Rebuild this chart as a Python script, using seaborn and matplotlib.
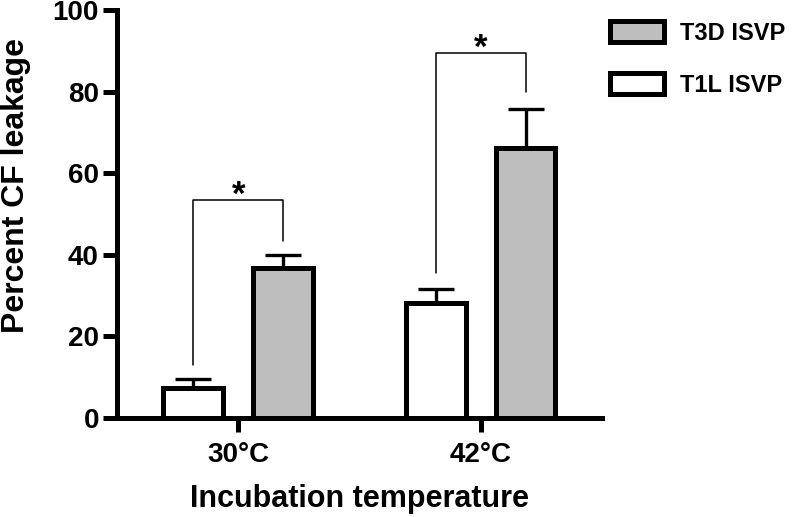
import seaborn as sns
import matplotlib.pyplot as plt
import pandas as pd
from matplotlib.patches import Patch

sns.set_style("ticks", {'axes.edgecolor': 'black', 'xtick.color': 'black',
                        'ytick.color': 'black', 'text.color': 'black',
                        'axes.labelcolor': 'black'})
plt.rcParams['font.family'] = ['Liberation Sans', 'DejaVu Sans']
plt.rcParams['font.weight'] = 'bold'

temps = ['30°C', '42°C']
strains = ['T1L ISVP', 'T3D ISVP']
t1l_mean = [7.3, 28.3]
t1l_err = [2.2, 3.4]
t3d_mean = [36.8, 66.2]
t3d_err = [3.2, 9.5]
colors = {'T1L ISVP': 'white', 'T3D ISVP': '#bebebe'}

# significance brackets: left leg bottom, top, right leg bottom
brackets = [(13, 53.5, 43.5), (35.5, 89.5, 79.8)]

df = pd.DataFrame({
    'temp': temps * 2,
    'strain': ['T1L ISVP'] * 2 + ['T3D ISVP'] * 2,
    'leak': t1l_mean + t3d_mean,
    'err': t1l_err + t3d_err,
})

fig = plt.figure(figsize=(7.93, 5.17), dpi=100)
ax = fig.add_axes([0.1475, 0.1915, 0.6115, 0.789])

sns.barplot(data=df, x='temp', y='leak', hue='strain', hue_order=strains,
            palette=colors, width=0.74, gap=0.333, edgecolor='black',
            linewidth=3.6, errorbar=None, legend=False, ax=ax)

# upper error bars only
bars = {}
for p, (_, row) in zip(ax.patches, df.iterrows()):
    xc = p.get_x() + p.get_width() / 2
    bars[(row['temp'], row['strain'])] = xc
    ax.errorbar(xc, row['leak'], yerr=[[0], [row['err']]], fmt='none',
                ecolor='black', elinewidth=2.4, capsize=13, capthick=2.4, zorder=1)

for i, t in enumerate(temps):
    x1 = bars[(t, 'T1L ISVP')]
    x2 = bars[(t, 'T3D ISVP')]
    lo1, top, lo2 = brackets[i]
    ax.plot([x1, x1, x2, x2], [lo1, top, top, lo2], color='black', lw=1.1)
    ax.text((x1 + x2) / 2, top + 1.0, '*', ha='center', va='center',
            fontsize=25, fontweight='bold')

ax.set_xlim(-0.5, 1.5)
ax.set_ylim(0, 100)
ax.set_yticks([0, 20, 40, 60, 80, 100])
sns.despine(ax=ax)
for s in ['left', 'bottom']:
    ax.spines[s].set_linewidth(3.6)
ax.tick_params(width=3.6, length=10, labelsize=20)
ax.tick_params(axis='y', pad=3)
ax.tick_params(axis='x', pad=7)
ax.set_xlabel('Incubation temperature', fontsize=22, fontweight='bold', labelpad=12)
ax.set_ylabel('Percent CF leakage', fontsize=23, fontweight='bold')
ax.yaxis.set_label_coords(-0.178, 0.57)

handles = [Patch(facecolor=colors[s], edgecolor='black', linewidth=3.6) for s in strains[::-1]]
fig.legend(handles, strains[::-1], loc='upper left', bbox_to_anchor=(0.743, 1.0),
           frameon=False, handlelength=2.25, handleheight=1.0,
           labelspacing=1.2, handletextpad=0.7, prop={'weight': 'bold', 'size': 17})

fig.savefig('out.png', dpi=100)
